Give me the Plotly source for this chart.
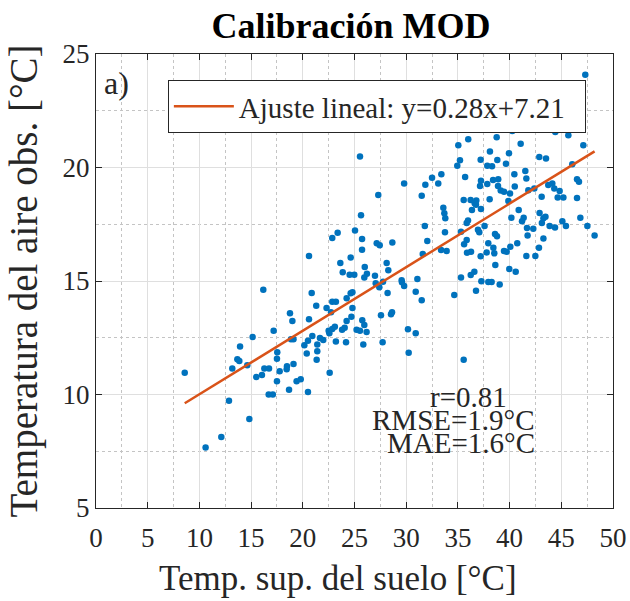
import plotly.graph_objects as go

# Temperatura superficial del suelo (°C)
temp_suelo = [
    8.58, 16.18, 18.76, 18.99, 20.6, 20.6, 17.18, 15.15, 13.93, 18.86, 19.1, 20.15, 20.5, 20.38,
    17.53, 17.5, 13.67, 13.86, 13.18, 14.63, 16.28, 16.73, 17.76, 18.47, 18.44, 19.1, 15.5, 16.05,
    17.5, 19.4, 19.8, 18.67, 20.5, 16.7, 17.1, 12.86, 14.83, 12.12, 10.6,
    25.53, 29.8, 31.85, 31.5, 32.5, 27.3, 25.63, 31.8, 32.04, 25.05, 23.37, 22.85, 25.73, 25.73,
    27.15, 27.44, 28.66, 24.63, 23.63, 31.6, 25.99, 23.86, 24.53, 24.98, 26.2, 25.95, 26.98, 28.11,
    28.27, 27.05, 27.4, 27.76, 29.56, 29.59, 29.8, 31.08, 28.2, 30.92, 31.5, 20.86, 21.3, 22.3,
    22.85, 23.2, 22.73, 24.24, 24.63, 24.8, 24.8, 24.7, 24.24, 27.56, 28.53, 28.63, 23.1, 22.85,
    22.5, 22.57, 23.8, 24.05, 25.75, 25.95, 25.2, 25.53, 26.17, 21.66, 21.98, 20.92, 21.4, 21.4,
    21.34, 23.2, 24.18, 25.85, 27.72, 30.17, 30.92, 30.24, 22.6,
    35.59, 36.0, 35.04, 38.75, 38.1, 37.2, 35.2, 34.94, 37.84, 38.3, 38.81, 39.65, 39.94, 40.26,
    40.46, 33.4, 33.1, 35.7, 37.23, 38.4, 38.9, 37.14, 37.84, 38.88, 39.14, 39.46, 40.04, 40.5,
    47.32, 42.39, 44.42, 45.68, 41.07, 47.13, 42.87, 43.52, 46.06, 41.52, 41.62, 44.13, 43.74,
    44.32, 46.52, 46.71, 41.81, 42.39, 44.84, 43.1, 44.65, 45.2, 46.52,
    35.56, 36.23, 36.78, 36.62, 38.07, 33.59, 33.69, 33.78, 36.36, 37.23, 36.75, 39.88, 40.17,
    40.88, 35.98, 35.85, 37.58, 36.94, 37.07, 33.75, 35.3, 35.85, 35.6, 38.59, 38.78, 37.94,
    38.43, 40.07, 40.74, 39.46, 39.72, 37.78, 38.52, 37.2, 36.27, 35.88, 33.91, 33.37, 38.62,
    39.97, 40.59, 36.59, 36.24, 35.3, 37.27, 37.94, 38.26, 39.04, 36.75, 34.65, 35.56,
    41.36, 41.2, 42.9, 43.27, 43.47, 43.12, 41.68, 42.29, 43.87, 44.39, 45.1, 45.45, 46.84,
    47.52, 48.22, 41.74, 43.27, 42.84, 41.62, 42.49,
]

# Temperatura del aire observada (°C)
temp_aire = [
    10.96, 14.62, 13.58, 13.24, 13.31, 16.1, 12.81, 12.53, 12.11, 12.43, 12.43, 12.17, 12.37, 11.81,
    11.86, 11.58, 11.55, 11.48, 11.15, 11.29, 11.15, 11.15, 11.02, 11.24, 11.11, 11.34, 10.77, 10.86,
    10.58, 10.58, 10.67, 10.21, 10.11, 10.0, 10.0, 9.73, 8.92, 8.13, 7.66,
    20.48, 19.3, 19.24, 18.76, 19.55, 18.79, 17.9, 17.42, 16.76, 17.23, 17.13, 16.89, 16.85, 16.38,
    16.66, 16.57, 16.7, 16.04, 15.79, 16.19, 15.62, 15.38, 15.28, 15.28, 15.32, 15.15, 15.23, 15.79,
    15.47, 14.9, 14.72, 14.97, 15.03, 14.94, 14.78, 15.09, 14.47, 14.53, 14.15, 14.47, 13.91, 13.81,
    14.09, 14.09, 13.62, 14.24, 14.46, 14.5, 13.81, 13.43, 13.24, 13.49, 13.53, 13.62, 12.99, 12.89,
    12.81, 12.7, 12.85, 12.94, 13.27, 13.06, 12.85, 12.81, 12.75, 12.49, 12.4, 12.58, 12.2, 11.9,
    11.53, 12.34, 12.3, 12.2, 12.3, 12.87, 12.7, 11.84, 10.96,
    21.95, 21.24, 20.98, 21.33, 20.71, 20.34, 20.32, 20.08, 20.08, 20.05, 20.33, 20.17, 20.63, 21.61,
    19.7, 19.7, 19.29, 19.58, 19.42, 19.45, 19.48, 19.19, 19.27, 19.19, 18.99, 18.93, 18.86, 19.16,
    24.09, 21.84, 21.56, 21.42, 21.05, 20.98, 20.46, 20.4, 20.14, 19.85, 19.51, 19.3, 19.23,
    19.08, 19.48, 19.37, 19.0, 19.08, 18.96, 18.71, 18.68, 18.68, 18.66,
    18.57, 18.57, 18.55, 18.42, 18.6, 18.23, 17.98, 17.76, 18.13, 18.17, 18.36, 18.52, 17.79,
    18.13, 17.67, 17.56, 17.42, 17.26, 17.15, 17.15, 17.17, 16.81, 16.62, 17.07, 16.97, 16.66,
    16.47, 16.51, 16.66, 16.32, 16.29, 16.26, 16.22, 16.09, 16.29, 16.25, 16.32, 16.37, 15.7,
    15.53, 15.41, 15.41, 15.26, 15.15, 14.99, 14.96, 14.96, 14.85, 14.57, 14.38, 11.53,
    17.79, 17.63, 18.0, 17.76, 17.83, 17.55, 17.34, 17.3, 17.42, 17.36, 17.63, 17.42, 17.79,
    17.42, 17.0, 17.0, 16.87, 16.47, 16.1, 16.1,
]

# Ajuste lineal
pendiente = 0.28
intercepto = 7.21
estadisticos = ["r=0.81", "RMSE=1.9°C", "MAE=1.6°C"]

x_ticks = [0, 5, 10, 15, 20, 25, 30, 35, 40, 45, 50]
y_ticks = [5, 10, 15, 20, 25]

FONT = "Liberation Serif, Times New Roman, serif"
AZUL = "#0072BD"
NARANJA = "#D95319"
NEGRO = "#262626"

x_fit = [min(temp_suelo), max(temp_suelo)]
y_fit = [pendiente * v + intercepto for v in x_fit]

fig = go.Figure()
fig.add_trace(go.Scatter(
    x=temp_suelo, y=temp_aire, mode="markers",
    marker=dict(color=AZUL, size=6.5, line=dict(width=0)),
    showlegend=False,
))
fig.add_trace(go.Scatter(
    x=x_fit, y=y_fit, mode="lines",
    line=dict(color=NARANJA, width=2.5),
    name=f"Ajuste lineal: y={pendiente:.2f}x+{intercepto:.2f}\u00a0\u00a0",
    showlegend=True,
))

axis_common = dict(
    showline=True, linecolor=NEGRO, linewidth=1, mirror="ticks",
    ticks="inside", ticklen=6, tickcolor=NEGRO,
    showgrid=True, gridcolor="#dfdfdf", gridwidth=1,
    zeroline=False, automargin=False,
    tickfont=dict(family=FONT, size=27, color=NEGRO),
)

fig.update_xaxes(
    range=[0, 50], tickvals=x_ticks, ticklabelstandoff=6,
    minor=dict(dtick=2.5, showgrid=True, gridcolor="#c4c4c4", griddash="dot", gridwidth=1, ticks=""),
    **axis_common,
)
fig.update_yaxes(
    range=[5, 25], tickvals=y_ticks,
    minor=dict(dtick=2.5, showgrid=True, gridcolor="#c4c4c4", griddash="dot", gridwidth=1, ticks=""),
    title=dict(text="Temperatura del aire obs. [°C]", font=dict(family=FONT, size=39, color=NEGRO), standoff=12),
    **axis_common,
)

fig.update_layout(
    width=630, height=601,
    margin=dict(l=96, r=17, t=54, b=93),
    paper_bgcolor="white", plot_bgcolor="white",
    title=dict(text="<b>Calibración MOD</b>", x=0.557, xanchor="center", y=0.958, yanchor="middle",
               font=dict(family=FONT, size=36, color="black")),
    legend=dict(x=0.139, y=0.943, xanchor="left", yanchor="top",
                bgcolor="white", bordercolor=NEGRO, borderwidth=1,
                font=dict(family=FONT, size=29, color=NEGRO),
                itemwidth=60, tracegroupgap=0),
    showlegend=True,
)

# Título del eje x (centrado como en la figura original)
fig.add_annotation(x=0.468, y=0, xref="paper", yref="paper", xanchor="center", yanchor="middle",
                   yshift=-70, text="Temp. sup. del suelo [°C]", showarrow=False,
                   font=dict(family=FONT, size=35, color=NEGRO))

fig.add_annotation(x=0.012, y=0.98, xref="paper", yref="paper", xanchor="left", yanchor="top",
                   text="a)", showarrow=False, font=dict(family=FONT, size=32, color=NEGRO))

stat_pos = [(0.72, 0.245), (0.692, 0.194), (0.706, 0.143)]
for txt, (px, py) in zip(estadisticos, stat_pos):
    fig.add_annotation(x=px, y=py, xref="paper", yref="paper", xanchor="center", yanchor="middle",
                       text=txt, showarrow=False, font=dict(family=FONT, size=29, color=NEGRO))

fig.write_html("out.html")
